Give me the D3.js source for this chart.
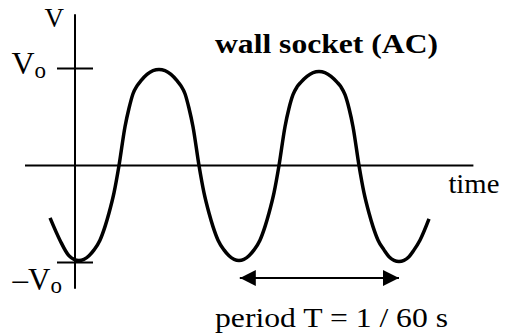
<!DOCTYPE html>
<html>
<head>
<meta charset="utf-8">
<script src="https://cdn.jsdelivr.net/npm/d3@7"></script>
<style>
  body { margin: 0; background: #fff; }
  svg { display: block; }
</style>
</head>
<body>
<div id="chart"></div>
<script>
// time in cycles (1 = one period), voltage in units of Vo
const waveT = [-0.156, -0.094, -0.0375, 0.025,
               0.0875, 0.119, 0.156, 0.1875, 0.2125, 0.244, 0.275, 0.3125, 0.3375, 0.3625, 0.3875, 0.4125, 0.45, 0.525,
               0.6, 0.6375, 0.6625, 0.6875, 0.7125, 0.7375, 0.775, 0.806, 0.8375, 0.8625, 0.894, 0.931, 0.9625, 1.025,
               1.0875, 1.119, 1.156, 1.1875, 1.2125, 1.244, 1.275, 1.3125, 1.3375, 1.3625, 1.3875, 1.4125, 1.45, 1.525,
               1.6, 1.6375, 1.6625, 1.6875, 1.7125, 1.7375, 1.775, 1.806, 1.8375, 1.8625, 1.894, 1.931, 1.9625, 2.025,
               2.0875, 2.119, 2.156, 2.2125];
const waveV = [-0.54, -0.77, -0.93, -0.98,
               -0.93, -0.87, -0.77, -0.63, -0.49, -0.28, 0.0, 0.40, 0.59, 0.74, 0.82, 0.875, 0.94, 0.99,
               0.94, 0.875, 0.82, 0.74, 0.59, 0.40, 0.0, -0.28, -0.49, -0.63, -0.77, -0.87, -0.93, -0.98,
               -0.93, -0.87, -0.77, -0.63, -0.49, -0.28, 0.0, 0.40, 0.59, 0.73, 0.81, 0.86, 0.92, 0.97,
               0.92, 0.86, 0.81, 0.73, 0.59, 0.40, 0.0, -0.28, -0.49, -0.63, -0.77, -0.87, -0.94, -0.99,
               -0.94, -0.87, -0.77, -0.55];
const timeRange = [-0.3125, 2.49];
const voltRange = [-1.27, 1.56];
const tickValues = [1, -1];
const periodSpan = [1.03, 2.025];
const periodLevel = -1.16;

const title = "wall socket (AC)";
const timeLabel = "time";
const periodLabel = "period T = 1 / 60 s";

const width = 508, height = 335;
const serif = "'Liberation Serif'";

const svg = d3.select("#chart").append("svg")
  .attr("width", width)
  .attr("height", height);

const x = d3.scaleLinear().domain([0, 1]).range([75, 235]);
const y = d3.scaleLinear().domain([-1, 1]).range([262.5, 68.5]);

const wave = waveT.map((t, i) => ({t: t, v: waveV[i]}));

// axes
svg.append("line")
  .attr("x1", x(timeRange[0])).attr("x2", x(timeRange[1]))
  .attr("y1", y(0)).attr("y2", y(0))
  .attr("stroke", "#000").attr("stroke-width", 2);

svg.append("line")
  .attr("x1", x(0)).attr("x2", x(0))
  .attr("y1", y(voltRange[1])).attr("y2", y(voltRange[0]))
  .attr("stroke", "#000").attr("stroke-width", 2);

// Vo / -Vo ticks
svg.selectAll(".tick")
  .data(tickValues)
  .enter().append("line")
  .attr("class", "tick")
  .attr("x1", x(0) - 18).attr("x2", x(0) + 18)
  .attr("y1", d => y(d)).attr("y2", d => y(d))
  .attr("stroke", "#000").attr("stroke-width", 2);

// the wave
const line = d3.line()
  .x(d => x(d.t))
  .y(d => y(d.v))
  .curve(d3.curveMonotoneX);

svg.append("path")
  .datum(wave)
  .attr("d", line)
  .attr("fill", "none")
  .attr("stroke", "#000")
  .attr("stroke-width", 3.5);

// period arrow
const defs = svg.append("defs");
defs.append("marker")
  .attr("id", "head")
  .attr("viewBox", "0 0 10 10")
  .attr("refX", 10).attr("refY", 5)
  .attr("markerWidth", 8).attr("markerHeight", 8)
  .attr("markerUnits", "strokeWidth")
  .attr("orient", "auto-start-reverse")
  .append("path")
  .attr("d", "M0,0 L10,5 L0,10 Z")
  .attr("fill", "#000");

svg.append("line")
  .attr("x1", x(periodSpan[0])).attr("x2", x(periodSpan[1]))
  .attr("y1", y(periodLevel)).attr("y2", y(periodLevel))
  .attr("stroke", "#000").attr("stroke-width", 2)
  .attr("marker-start", "url(#head)")
  .attr("marker-end", "url(#head)");

// labels
svg.append("text")
  .attr("x", x(0) - 11).attr("y", 27)
  .attr("text-anchor", "end")
  .style("font-family", serif)
  .style("font-size", "27px")
  .text("V");

const vo = svg.append("text")
  .attr("x", x(0) - 29).attr("y", y(1) + 5.5)
  .attr("text-anchor", "end")
  .style("font-family", serif)
  .style("font-size", "32px");
vo.append("tspan").text("V");
vo.append("tspan").style("font-size", "23px").attr("dy", 4).text("o");

const nvo = svg.append("text")
  .attr("x", x(0) - 13).attr("y", y(-1) + 27.5)
  .attr("text-anchor", "end")
  .style("font-family", serif)
  .style("font-size", "31px");
nvo.append("tspan").text("–V");
nvo.append("tspan").style("font-size", "23px").attr("dy", 3).text("o");

svg.append("text")
  .attr("x", 215).attr("y", 53)
  .style("font-family", serif)
  .style("font-size", "27px")
  .style("font-weight", "bold")
  .attr("textLength", 223)
  .attr("lengthAdjust", "spacingAndGlyphs")
  .text(title);

svg.append("text")
  .attr("x", x(timeRange[1]) - 25).attr("y", y(0) + 27.5)
  .style("font-family", serif)
  .style("font-size", "27px")
  .attr("textLength", 51)
  .attr("lengthAdjust", "spacingAndGlyphs")
  .text(timeLabel);

svg.append("text")
  .attr("x", 215).attr("y", 327)
  .style("font-family", serif)
  .style("font-size", "27px")
  .attr("textLength", 233)
  .attr("lengthAdjust", "spacingAndGlyphs")
  .text(periodLabel);
</script>
</body>
</html>
